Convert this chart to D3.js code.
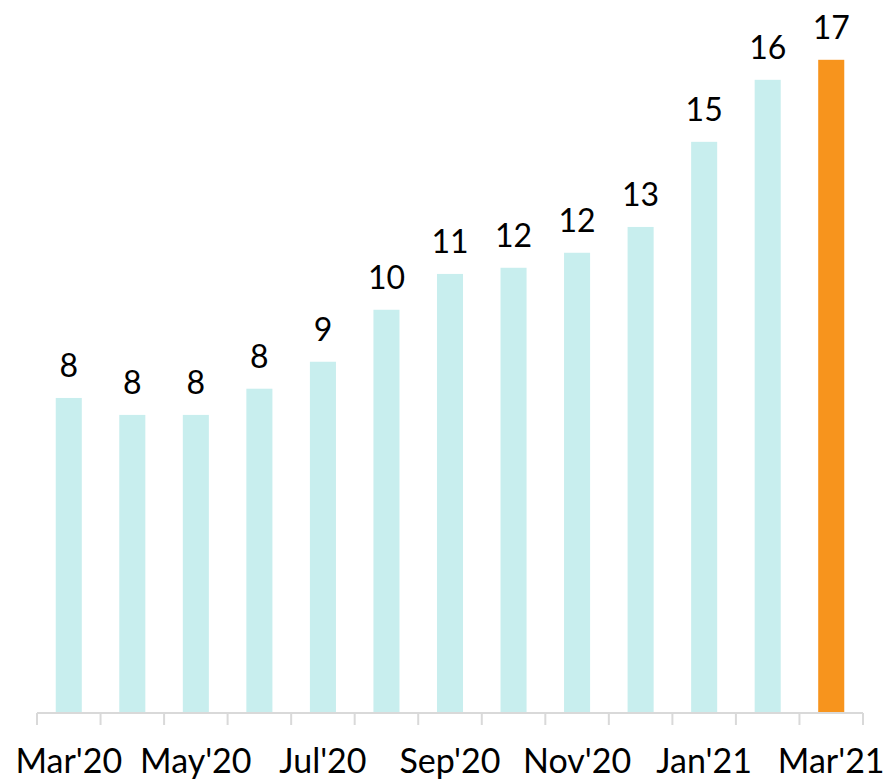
<!DOCTYPE html>
<html>
<head>
<meta charset="utf-8">
<script src="https://cdn.jsdelivr.net/npm/d3@7"></script>
<style>
  body { margin: 0; background: #fff; }
</style>
</head>
<body>
<div id="chart"></div>
<script>
// months shown on the axis (every other one gets a label)
var months = ["Mar'20", "Apr'20", "May'20", "Jun'20", "Jul'20", "Aug'20", "Sep'20",
	"Oct'20", "Nov'20", "Dec'20", "Jan'21", "Feb'21", "Mar'21"];
var values = [8.18, 7.74, 7.74, 8.42, 9.12, 10.47, 11.4, 11.56, 11.95, 12.62, 14.83, 16.44, 16.96];
var tickLabels = ["Mar'20", "May'20", "Jul'20", "Sep'20", "Nov'20", "Jan'21", "Mar'21"];

var W = 892, H = 781;
var margin = { top: 39, right: 29, bottom: 68, left: 37 };
var width = W - margin.left - margin.right;
var height = H - margin.top - margin.bottom;

var data = months.map(function (m, i) {
	return { month: m, value: values[i] };
});

var svg = d3.select('#chart')
	.append('svg')
	.attr('width', W)
	.attr('height', H)
	.append('g')
	.attr('transform', 'translate(' + margin.left + ',' + margin.top + ')');

var x = d3.scaleBand()
	.domain(months)
	.range([0, width])
	.paddingInner(0.59)
	.paddingOuter(0.295);

var y = d3.scaleLinear().domain([0, 17.5]).range([height, 0]);

// bars
svg.selectAll('.bar')
	.data(data)
	.enter()
	.append('rect')
	.attr('class', 'bar')
	.attr('x', function (d) { return x(d.month); })
	.attr('y', function (d) { return y(d.value); })
	.attr('width', x.bandwidth())
	.attr('height', function (d) { return height - y(d.value); })
	.attr('fill', function (d, i) { return i === data.length - 1 ? '#f7941d' : '#c8eeee'; });

// value labels
svg.selectAll('.lbl')
	.data(data)
	.enter()
	.append('text')
	.attr('class', 'lbl')
	.attr('x', function (d) { return x(d.month) + x.bandwidth() / 2; })
	.attr('y', function (d) { return y(d.value) - 21; })
	.attr('text-anchor', 'middle')
	.attr('font-family', 'Lato, "Open Sans", sans-serif')
	.attr('font-size', '32px')
	.attr('fill', '#000')
	.text(function (d) { return d3.format('.0f')(d.value); });

// x axis: line + ticks on category boundaries
var axis = svg.append('g').attr('transform', 'translate(0,' + height + ')');
axis.append('line')
	.attr('x1', 0).attr('x2', width)
	.attr('y1', 0).attr('y2', 0)
	.attr('stroke', '#d9d9d9').attr('stroke-width', 2);

var step = x.step();
var bounds = d3.range(months.length + 1).map(function (i) {
	return i === 0 ? 0 : x(months[i - 1]) + x.bandwidth() / 2 + step / 2;
});
axis.selectAll('.tick')
	.data(bounds)
	.enter()
	.append('line')
	.attr('x1', function (d) { return d; })
	.attr('x2', function (d) { return d; })
	.attr('y1', 0).attr('y2', 12)
	.attr('stroke', '#d9d9d9').attr('stroke-width', 2);

axis.selectAll('.tl')
	.data(tickLabels)
	.enter()
	.append('text')
	.attr('x', function (d) { return x(d) + x.bandwidth() / 2; })
	.attr('y', 60)
	.attr('text-anchor', 'middle')
	.attr('font-family', 'Lato, "Open Sans", sans-serif')
	.attr('font-size', '34px')
	.attr('fill', '#000')
	.text(function (d) { return d; });
</script>
</body>
</html>
